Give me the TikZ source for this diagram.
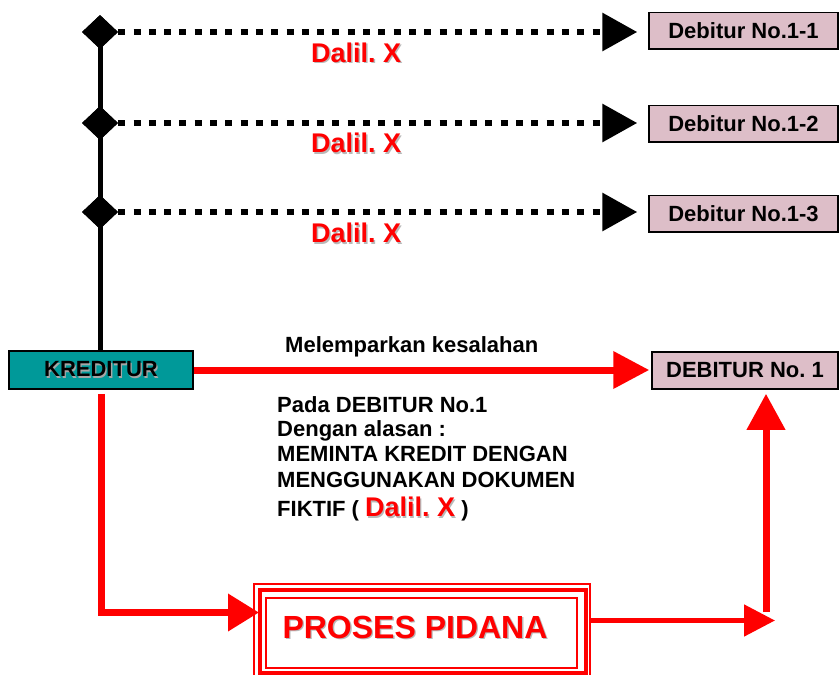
\documentclass[tikz,border=0pt]{standalone}
\usepackage{fontspec}
\setmainfont{Liberation Sans}
\usetikzlibrary{arrows.meta,shapes.geometric,calc}
\definecolor{pinkbox}{RGB}{221,190,200}
\definecolor{tealbox}{RGB}{0,153,153}
\newcommand{\shd}[2][gray!55]{\leavevmode\rlap{\hspace{1.3pt}\raisebox{-1.3pt}{\textcolor{#1}{#2}}}#2}
\frenchspacing
\begin{document}
\begin{tikzpicture}[x=1pt,y=-1pt,
  dia/.style={diamond,fill=black,minimum width=36pt,minimum height=34pt,inner sep=0pt},
  debbox/.style={draw=black,line width=1.5pt,fill=pinkbox,minimum width=189pt,minimum height=36.5pt,inner sep=0pt,font=\fontsize{22}{26}\selectfont\bfseries},
  dalil/.style={text=red,font=\fontsize{27}{32}\selectfont\bfseries,inner sep=0pt,anchor=base west},
  body/.style={font=\fontsize{22}{26}\selectfont\bfseries,inner sep=0pt,anchor=base west},
  dots/.style={line width=6.5pt,dash pattern=on 7pt off 8.3pt,-{Triangle[length=35pt,width=37pt]},shorten >=11pt},
  redline/.style={draw=red,line width=7pt}
]
\useasboundingbox (0,0) rectangle (839,675);

% nodes
\node[dia] (dia1) at (100,32) {};
\node[dia] (dia2) at (100,123) {};
\node[dia] (dia3) at (100,212) {};
\node[debbox] (d11) at (743.5,30.75) {Debitur No.1-1};
\node[debbox] (d12) at (743.5,123.5) {Debitur No.1-2};
\node[debbox] (d13) at (743.5,213.5) {Debitur No.1-3};
\node[draw=black,line width=1.5pt,fill=tealbox,minimum width=184pt,minimum height=38pt,inner sep=0pt,font=\fontsize{22}{26}\selectfont\bfseries] (kred) at (101,370) {\shd[black!35]{KREDITUR}};
\node[debbox,minimum width=186pt,minimum height=37pt] (deb1) at (745,370.5) {DEBITUR No. 1};

% connectors (black)
\draw[line width=5pt] (dia1.center) -- (dia1.center |- kred.north);
\node[dia] at (dia1) {};
\node[dia] at (dia2) {};
\node[dia] at (dia3) {};
\draw[dots] (dia1.east) -- (dia1.east -| d11.west);
\draw[dots] (dia2.east) -- (dia2.east -| d12.west);
\draw[dots] (dia3.east) -- (dia3.east -| d13.west);

% labels
\node[dalil] (l1) at (311,62.3) {\shd{Dalil. X}};
\node[dalil] (l2) at (311,152.7) {\shd{Dalil. X}};
\node[dalil] (l3) at (311,242.7) {\shd{Dalil. X}};
\node[body] (mel) at (285,352) {Melemparkan kesalahan};
\node[body] (t1) at (277,412) {Pada DEBITUR No.1};
\node[body] (t2) at (277,436.3) {Dengan alasan :};
\node[body] (t3) at (277,461.7) {MEMINTA KREDIT DENGAN};
\node[body] (t4) at (277,487.3) {MENGGUNAKAN DOKUMEN};
\node[body] (t5) at (277,516.7) {FIKTIF ( {\color{red}\fontsize{27}{32}\selectfont\shd{Dalil. X}} )};

% proses pidana box
\node[draw=red,line width=1.5pt,minimum width=336pt,minimum height=94pt,inner sep=0pt] (pp) at (422,631) {};
\draw[red,line width=4pt] ($(pp.north west)+(6.5,6.5)$) rectangle ($(pp.south east)+(-5,-6)$);
\draw[red,line width=2.5pt] ($(pp.north west)+(12.5,14.5)$) rectangle ($(pp.south east)+(-14,-11)$);
\node[text=red,font=\fontsize{32}{38}\selectfont\bfseries,inner sep=0pt,anchor=base] (ppt) at (415,638) {\shd{PROSES PIDANA}};

% red connectors
\draw[redline,-{Triangle[length=36pt,width=36pt]},shorten >=2pt] (kred.east) -- (kred.east -| deb1.west);
\coordinate (c0) at (259,612.5);
\draw[redline,-{Triangle[length=31pt,width=36pt]}] ([yshift=-4pt]kred.south) |- (c0);
\coordinate (c1) at (775,620.5);
\draw[redline,line width=5pt,-{Triangle[length=31pt,width=31pt]}] (pp.east |- c1) -- (c1);
\coordinate (c2) at (766,612);
\draw[redline,-{Triangle[length=36pt,width=37pt]},shorten >=4pt] (c2) -- (c2 |- deb1.south);
\end{tikzpicture}
\end{document}
